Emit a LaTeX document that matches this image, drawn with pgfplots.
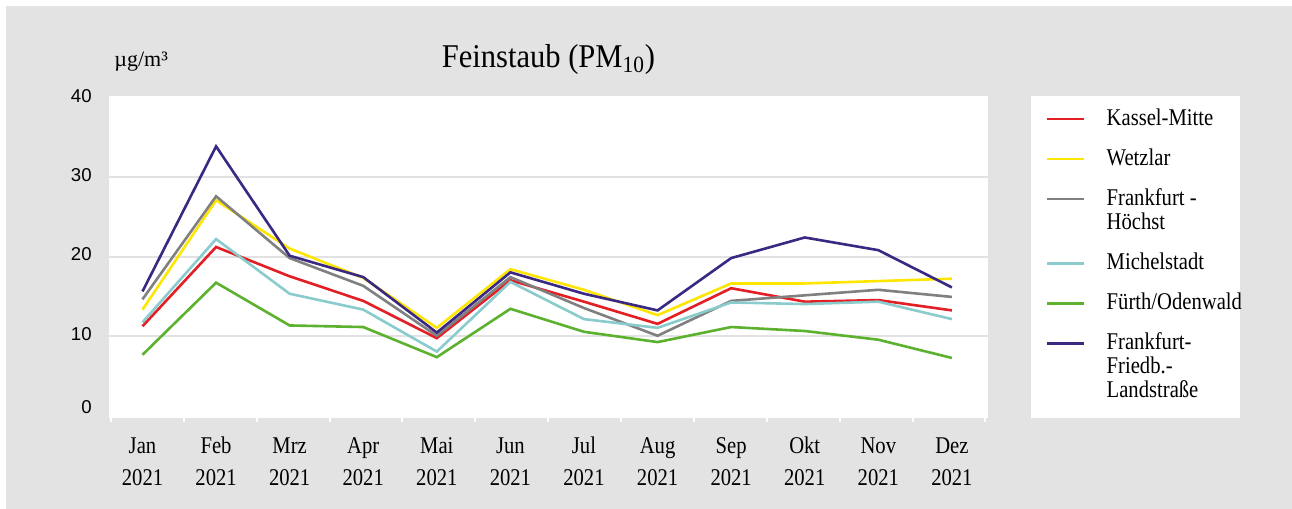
\documentclass[border=0pt]{standalone}
\usepackage{fontspec}
\setmainfont{Liberation Serif}
\newfontfamily\condfont{Liberation Serif}[FakeStretch=0.86]
\newfontfamily\titlefont{Liberation Serif}[FakeStretch=0.92]
\newfontfamily\numfont{Liberation Sans}
\usepackage{pgfplots}
\pgfplotsset{compat=1.18}
\usepackage{pgfplotstable}

\definecolor{bg}{RGB}{227,227,227}
\definecolor{gridc}{RGB}{226,226,226}
\definecolor{cRed}{RGB}{227,30,36}
\definecolor{cYellow}{RGB}{255,230,0}
\definecolor{cGray}{RGB}{128,128,128}
\definecolor{cCyan}{RGB}{138,204,206}
\definecolor{cGreen}{RGB}{92,178,46}
\definecolor{cPurple}{RGB}{58,40,130}

\pgfplotstableread{
m red yellow gray cyan green purple
1 11.2 13.3 14.6 11.7 7.6 15.6
2 21.2 27.1 27.6 22.2 16.7 33.9
3 17.5 21.0 19.8 15.3 11.3 20.1
4 14.4 17.3 16.3 13.3 11.1 17.4
5 9.7 11.0 10.0 8.0 7.3 10.4
6 17.0 18.4 17.4 16.8 13.4 18.0
7 14.3 15.8 13.5 12.1 10.5 15.3
8 11.5 12.6 10.0 11.0 9.2 13.2
9 16.0 16.6 14.4 14.2 11.1 19.8
10 14.3 16.6 15.1 14.0 10.6 22.4
11 14.5 16.9 15.8 14.3 9.5 20.8
12 13.2 17.2 14.9 12.1 7.2 16.1
}\pmdata

\newcommand\lgone[1]{\raisebox{0pt}[9pt][3pt]{#1}}
\newcommand\lgtwo[2]{\raisebox{0pt}[9pt][15.15pt]{\vtop{\baselineskip=12.15pt\hbox{#1}\hbox{#2}}}}
\newcommand\lgthree[3]{\raisebox{0pt}[9pt][27.3pt]{\vtop{\baselineskip=12.15pt\hbox{#1}\hbox{#2}\hbox{#3}}}}

\begin{document}
\begin{tikzpicture}
\begin{scope}[x=0.5pt,y=-0.5pt]
\fill[white] (0,0) rectangle (1292,509);
\fill[bg] (6,6) rectangle (1292,509);
\fill[white] (109,96) rectangle (988,418);
\fill[white] (1031,96) rectangle (1240,418);
\node[anchor=base, font=\titlefont\fontsize{16.6}{20}\selectfont, inner sep=0pt] at (548.5,67) {Feinstaub (PM\textsubscript{10})};
\node[anchor=base west, font=\fontsize{11}{13}\selectfont, inner sep=0pt] at (114,66) {µg/m³};
\end{scope}
\begin{axis}[
  at={(54.5pt,-207.5pt)}, anchor=south west,
  scale only axis, width=439.5pt, height=158.5pt,
  xmin=0.5447, xmax=12.4906, ymin=0, ymax=40,
  axis line style={draw=none},
  tick pos=left,
  tick align=outside,
  xtick={1,...,12},
  xticklabels={{Jan\\2021},{Feb\\2021},{Mrz\\2021},{Apr\\2021},{Mai\\2021},{Jun\\2021},{Jul\\2021},{Aug\\2021},{Sep\\2021},{Okt\\2021},{Nov\\2021},{Dez\\2021}},
  minor xtick={0.572,1.562,2.553,3.543,4.533,5.524,6.514,7.504,8.495,9.485,10.475,11.466,12.456},
  major tick length=0pt,
  minor tick length=3.5pt,
  minor tick style={draw=white, line width=1pt},
  ytick={0,10,20,30,40},
  yticklabels={{\raisebox{3.15pt}[\height][\depth]{0}},10,20,30,40},
  extra y ticks={10,20,30}, extra y tick labels={},
  extra y tick style={grid=major, major grid style={draw=gridc, line width=1pt}},
  xticklabel style={font=\condfont\fontsize{12}{15.85}\selectfont, align=center, anchor=base, inner sep=0pt, yshift=-35pt},
  yticklabel style={font=\numfont\fontsize{9.3}{11}\selectfont, anchor=east, inner sep=0pt, xshift=-8.5pt, yshift=1pt},
  clip=false,
  legend image code/.code={\draw[#1] (0pt,3pt) -- (18.8pt,3pt);},
  legend style={at={(1.0653,0.97161)}, anchor=north west, draw=none, fill=none,
    inner sep=0pt, outer sep=0pt, row sep=8pt, column sep=10.55pt,
    font=\condfont\fontsize{12}{12.15}\selectfont,
    nodes={inner sep=0pt, outer sep=0pt, text depth=}, cells={anchor=base west}},
]
\addplot[cRed, line width=1.3pt] table[x=m,y=red]{\pmdata};
\addlegendentry{\lgone{Kassel-Mitte}}
\addplot[cYellow, line width=1.3pt] table[x=m,y=yellow]{\pmdata};
\addlegendentry{\lgone{Wetzlar}}
\addplot[cGray, line width=1.3pt] table[x=m,y=gray]{\pmdata};
\addlegendentry{\lgtwo{Frankfurt -}{Höchst}}
\addplot[cCyan, line width=1.3pt] table[x=m,y=cyan]{\pmdata};
\addlegendentry{\lgone{Michelstadt}}
\addplot[cGreen, line width=1.3pt] table[x=m,y=green]{\pmdata};
\addlegendentry{\lgone{Fürth/Odenwald}}
\addplot[cPurple, line width=1.3pt] table[x=m,y=purple]{\pmdata};
\addlegendentry{\lgthree{Frankfurt-}{Friedb.-}{Landstraße}}
\end{axis}
\pgfresetboundingbox
\path[use as bounding box] (0,0) rectangle (646pt,-254.5pt);
\end{tikzpicture}
\end{document}
